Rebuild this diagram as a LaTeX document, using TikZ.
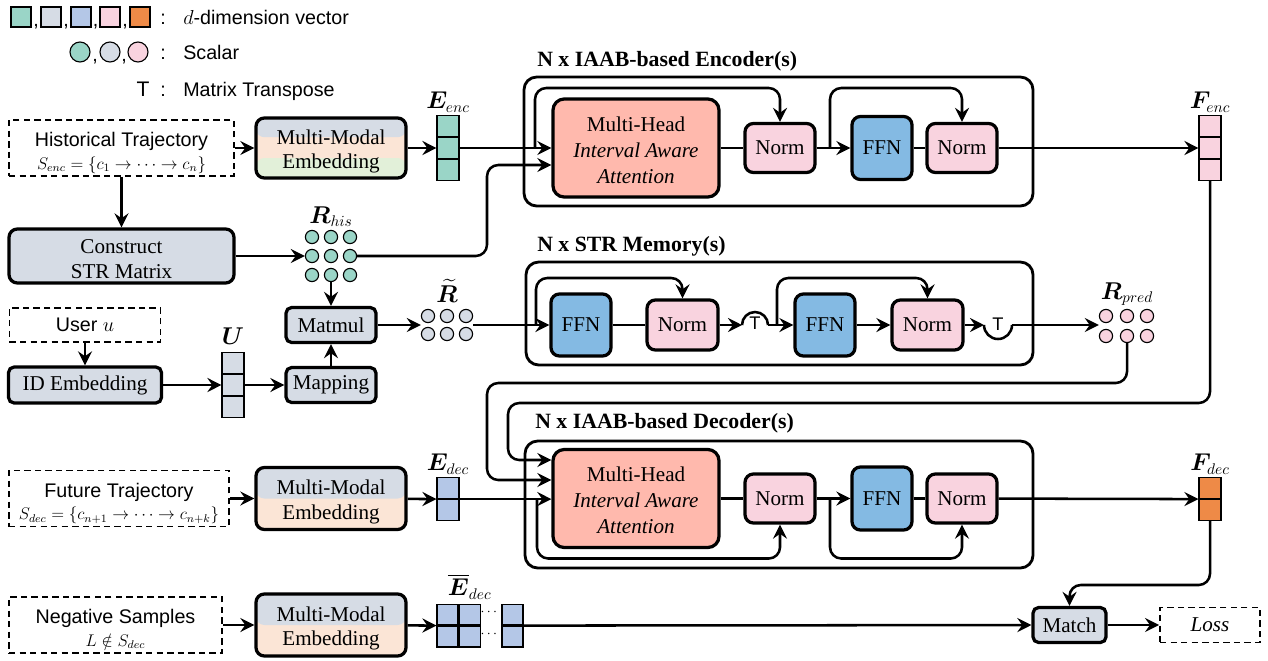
\documentclass[tikz,border=0pt]{standalone}
\usepackage[no-math]{fontspec}
\usepackage{amsmath,amssymb,bm}
\setmainfont{Liberation Serif}
\setsansfont{Liberation Sans}
\usetikzlibrary{arrows.meta,calc,positioning}
\definecolor{mhred}{HTML}{FFB9AD}
\definecolor{pnk}{HTML}{F9D3DF}
\definecolor{ffnb}{HTML}{84BAE3}
\definecolor{gry}{HTML}{D6DCE5}
\definecolor{tea}{HTML}{9AD5C7}
\definecolor{blu}{HTML}{B4C7E7}
\definecolor{org}{HTML}{EE8A47}
\definecolor{pch}{HTML}{FBE5D6}
\definecolor{grn}{HTML}{E2F0D9}
\tikzset{
    box/.style =    {rectangle,
                    rounded corners=6pt,
                    draw=black,
                    text=black,
                    line width=2.3pt,
                    align=center,
                    inner sep=0pt,
                    font=\fontsize{15}{17.5}\selectfont},
    dbox/.style =   {rectangle,
                    draw=black,
                    dash pattern=on 4.5pt off 3pt,
                    line width=1.3pt,
                    align=center,
                    inner sep=0pt,
                    font=\sffamily\fontsize{14}{16}\selectfont},
    mm/.style =     {box,
                    fill=pch,
                    minimum width=3.75cm,
                    minimum height=1.55cm},
    band2/.style =  {path picture={\fill[gry] (path picture bounding box.north west) rectangle ([yshift=-0.775cm]path picture bounding box.north east);}},
    band3/.style =  {path picture={\fill[gry] (path picture bounding box.north west) rectangle ([yshift=-0.48cm]path picture bounding box.north east);
                                   \fill[grn] (path picture bounding box.south west) rectangle ([yshift=0.5cm]path picture bounding box.south east);}},
    cell/.style =   {rectangle,
                    draw=black,
                    line width=0.8pt,
                    inner sep=0pt,
                    minimum width=0.55cm,
                    minimum height=0.52cm},
    keysq/.style =  {cell,
                    minimum width=0.5cm,
                    minimum height=0.5cm},
    scal/.style =   {circle,
                    draw=black,
                    line width=0.8pt,
                    inner sep=0pt,
                    minimum size=0.33cm},
    lbl/.style =    {font=\fontsize{16}{18}\selectfont,
                    inner sep=1pt,
                    label distance=1pt},
    head/.style =   {anchor=base west,
                    inner sep=0pt,
                    font=\bfseries\fontsize{15.5}{18}\selectfont},
    txt/.style =    {inner sep=0pt,
                    font=\sffamily\fontsize{14}{16}\selectfont},
    blk/.style =    {draw=black,
                    line width=2pt,
                    rounded corners=9pt},
    wire/.style =   {line width=1.8pt},
    >={Stealth[length=10pt,width=10pt,inset=3.5pt]},
    arr/.style =    {wire, ->},
    res/.style =    {wire, ->, rounded corners=8pt}}

\begin{document}
\begin{tikzpicture}[x=0.025cm, y=-0.025cm]
\useasboundingbox (0,0) rectangle (1268,660);

% legend
\node[keysq, fill=tea] (k1) at (21,17) {};
\node[keysq, fill=gry] (k2) at (51,17) {};
\node[keysq, fill=blu] (k3) at (81,17) {};
\node[keysq, fill=pnk] (k4) at (110,17) {};
\node[keysq, fill=org] (k5) at (140,17) {};
\node[txt, anchor=base] (c1) at (36,26) {,};
\node[txt, anchor=base] (c2) at (66,26) {,};
\node[txt, anchor=base] (c3) at (95.5,26) {,};
\node[txt, anchor=base] (c4) at (125,26) {,};
\node[txt, anchor=base] (m1) at (163,24) {:};
\node[txt, anchor=base west] (l1) at (183,24) {{\fontsize{15}{16}\selectfont$d$}-dimension vector};
\node[scal, minimum size=0.5cm, fill=tea] (o1) at (80,52) {};
\node[scal, minimum size=0.5cm, fill=gry] (o2) at (110,52) {};
\node[scal, minimum size=0.5cm, fill=pnk] (o3) at (138,52) {};
\node[txt, anchor=base] (c5) at (95,61) {,};
\node[txt, anchor=base] (c6) at (124,61) {,};
\node[txt, anchor=base] (m2) at (163,59) {:};
\node[txt, anchor=base west] (l2) at (183,59) {Scalar};
\node[txt, anchor=base, font=\sffamily\fontsize{15}{16}\selectfont] (tt) at (143,96) {T};
\node[txt, anchor=base] (m3) at (163,96) {:};
\node[txt, anchor=base west] (l3) at (183,96) {Matrix Transpose};

% blocks
\draw[blk] (524,77) rectangle (1033,206);
\draw[blk] (526,262) rectangle (1033,365);
\draw[blk] (525,441) rectangle (1033,568);
\node[head] (enct) at (537,66) {N x IAAB-based Encoder(s)};
\node[head] (strt) at (537,251) {N x STR Memory(s)};
\node[head] (dect) at (535,428) {N x IAAB-based Decoder(s)};

% inputs
\node[dbox, minimum width=5.625cm, minimum height=1.4cm] (hist) at (121.5,148) {\rule{0pt}{17pt}Historical Trajectory\\{\fontsize{12}{14}\selectfont$S_{enc}=\{c_1\rightarrow\cdots\rightarrow c_n\}$}};
\node[mm, band3, minimum height=1.5cm] (mm1) at (331,148) {\rule{0pt}{15.5pt}Multi-Modal\\Embedding};
\node[cell, fill=tea] (ee2) at (448,148) {};
\node[cell, fill=tea, above=0pt of ee2, label={[lbl]above:$\bm{E}_{enc}$}] (ee1) {};
\node[cell, fill=tea, below=0pt of ee2] (ee3) {};

\node[box, fill=gry, minimum width=5.625cm, minimum height=1.35cm] (cons) at (121.5,256) {\rule{0pt}{14.5pt}Construct\\STR Matrix};
\node[scal, fill=tea] (h11) at (312,237) {};
\node[scal, fill=tea, label={[lbl]above:$\bm{R}_{his}$}] (h12) at (331,237) {};
\node[scal, fill=tea] (h13) at (350,237) {};
\node[scal, fill=tea] (h21) at (312,256) {};
\node[scal, fill=tea] (h22) at (331,256) {};
\node[scal, fill=tea] (h23) at (350,256) {};
\node[scal, fill=tea] (h31) at (312,275) {};
\node[scal, fill=tea] (h32) at (331,275) {};
\node[scal, fill=tea] (h33) at (350,275) {};

\node[box, fill=gry, minimum width=2.25cm, minimum height=0.875cm, rounded corners=4pt] (matmul) at (331,325) {Matmul};
\node[box, fill=gry, minimum width=2.25cm, minimum height=0.875cm, rounded corners=4pt] (mapping) at (331,385) {Mapping};
\node[scal, fill=gry] (t11) at (428,316) {};
\node[scal, fill=gry, label={[lbl, label distance=3pt]above:$\widetilde{\bm{R}}$}] (t12) at (447,316) {};
\node[scal, fill=gry] (t13) at (466,316) {};
\node[scal, fill=gry] (t21) at (428,334) {};
\node[scal, fill=gry] (t22) at (447,334) {};
\node[scal, fill=gry] (t23) at (466,334) {};

\node[dbox, minimum width=3.775cm, minimum height=0.85cm] (user) at (85,325) {User $u$};
\node[box, fill=gry, minimum width=3.825cm, minimum height=0.9cm, rounded corners=4pt] (idemb) at (85,385) {ID Embedding};
\node[cell, fill=gry] (u2) at (233,385) {};
\node[cell, fill=gry, above=0pt of u2, label={[lbl, label distance=4pt]above:$\bm{U}$}] (u1) {};
\node[cell, fill=gry, below=0pt of u2] (u3) {};

\node[dbox, minimum width=5.5cm, minimum height=1.4cm] (fut) at (119,498.5) {\rule{0pt}{17pt}Future Trajectory\\{\fontsize{12}{14}\selectfont$S_{dec}=\{c_{n+1}\rightarrow\cdots\rightarrow c_{n+k}\}$}};
\node[mm, band2] (mm2) at (331,498.5) {\rule{0pt}{15.5pt}Multi-Modal\\Embedding};
\node[cell, fill=blu, label={[lbl]above:$\bm{E}_{dec}$}] (ed1) at (448,488.1) {};
\node[cell, fill=blu, below=0pt of ed1] (ed2) {};

\node[dbox, minimum width=5.325cm, minimum height=1.4cm] (neg) at (115.5,625) {\rule{0pt}{16pt}Negative Samples\\{\fontsize{12}{14}\selectfont$L\notin S_{dec}$}};
\node[mm, band2] (mm3) at (331,625) {\rule{0pt}{15.5pt}Multi-Modal\\Embedding};
\node[cell, fill=blu, minimum width=0.525cm] (eb11) at (447.5,614.6) {};
\node[cell, fill=blu, minimum width=0.525cm, right=0pt of eb11, label={[lbl, label distance=2pt]above:$\overline{\bm{E}}_{dec}$}] (eb12) {};
\node[cell, fill=blu, minimum width=0.525cm, below=0pt of eb11] (eb21) {};
\node[cell, fill=blu, minimum width=0.525cm, below=0pt of eb12] (eb22) {};
\node[cell, fill=blu, minimum width=0.525cm] (eb13) at (512.5,614.6) {};
\node[cell, fill=blu, minimum width=0.525cm, below=0pt of eb13] (eb23) {};
\node[inner sep=0pt, font=\fontsize{10}{10}\selectfont] (dt1) at (490,612) {$\cdots$};
\node[inner sep=0pt, font=\fontsize{10}{10}\selectfont] (dt2) at (490,634) {$\cdots$};

% encoder
\node[box, fill=mhred, minimum width=4.15cm, minimum height=2.45cm, rounded corners=8pt, font=\fontsize{15}{18.5}\selectfont] (emh) at (636,148) {\rule{0pt}{13pt}Multi-Head\\\textit{Interval Aware}\\\textit{Attention}};
\node[box, fill=pnk, minimum width=1.75cm, minimum height=1.225cm] (en1) at (780,148) {Norm};
\node[box, fill=ffnb, minimum width=1.5cm, minimum height=1.575cm] (ef) at (882,148) {FFN};
\node[box, fill=pnk, minimum width=1.75cm, minimum height=1.225cm] (en2) at (962,148) {Norm};
\node[cell, fill=pnk] (fe2) at (1210,148) {};
\node[cell, fill=pnk, above=0pt of fe2, label={[lbl]above:$\bm{F}_{enc}$}] (fe1) {};
\node[cell, fill=pnk, below=0pt of fe2] (fe3) {};

% STR memory
\node[box, fill=ffnb, minimum width=1.5cm, minimum height=1.55cm] (sf1) at (581,325) {FFN};
\node[box, fill=pnk, minimum width=1.775cm, minimum height=1.25cm] (sn1) at (682.5,325) {Norm};
\node[box, fill=ffnb, minimum width=1.5cm, minimum height=1.55cm] (sf2) at (825,325) {FFN};
\node[box, fill=pnk, minimum width=1.775cm, minimum height=1.25cm] (sn2) at (927.5,325) {Norm};
\coordinate (b1a) at (742,325);
\coordinate (b1b) at (768,325);
\coordinate (b2a) at (984,325);
\coordinate (b2b) at (1012,325);
\node[txt, font=\sffamily\fontsize{13}{13}\selectfont] (tp1) at (755,323) {T};
\node[txt, font=\sffamily\fontsize{13}{13}\selectfont] (tp2) at (998,324) {T};
\node[scal, fill=pnk] (q11) at (1106,316) {};
\node[scal, fill=pnk, label={[lbl]above:$\bm{R}_{pred}$}] (q12) at (1127,316) {};
\node[scal, fill=pnk] (q13) at (1147,316) {};
\node[scal, fill=pnk] (q21) at (1106,336) {};
\node[scal, fill=pnk] (q22) at (1127,336) {};
\node[scal, fill=pnk] (q23) at (1147,336) {};

% decoder
\node[box, fill=mhred, minimum width=4.15cm, minimum height=2.45cm, rounded corners=8pt, font=\fontsize{15}{18.5}\selectfont] (dmh) at (636,498.5) {\rule{0pt}{13pt}Multi-Head\\\textit{Interval Aware}\\\textit{Attention}};
\node[box, fill=pnk, minimum width=1.75cm, minimum height=1.225cm] (dn1) at (780,498.5) {Norm};
\node[box, fill=ffnb, minimum width=1.5cm, minimum height=1.575cm] (df) at (882,498.5) {FFN};
\node[box, fill=pnk, minimum width=1.75cm, minimum height=1.225cm] (dn2) at (962,498.5) {Norm};
\node[cell, fill=org, label={[lbl]above:$\bm{F}_{dec}$}] (fd1) at (1210,488.1) {};
\node[cell, fill=org, below=0pt of fd1] (fd2) {};

\node[box, fill=gry, minimum width=1.825cm, minimum height=0.875cm, rounded corners=4pt] (match) at (1069.5,625) {Match};
\node[dbox, font=\fontsize{15}{17}\selectfont, minimum width=2.5cm, minimum height=0.875cm] (loss) at (1210,625) {\textit{Loss}};

% connections
\path[arr] (hist) edge (mm1)
           (mm1) edge (ee2)
           (ee2) edge (emh)
           (hist) edge (cons)
           (cons) edge (h21)
           (h32) edge (matmul)
           (mapping) edge (matmul)
           (matmul) edge (matmul -| t21.west)
           (user) edge (idemb)
           (idemb) edge (u2)
           (u2) edge (mapping)
           (t13.east |- sf1) edge (sf1)
           (en1) edge (ef)
           (en2) edge (fe2)
           (sn1) edge (b1a)
           (b1b) edge (sf2)
           (sf2) edge (sn2)
           (sn2) edge (b2a)
           (b2b) edge (q11.west |- b2b)
           (fut) edge (mm2)
           (mm2) edge (ed1.south west)
           (ed1.south east) edge (dmh.west |- ed1.south east)
           (dn1) edge (df)
           (dn2) edge (fd1.south west)
           (neg) edge (mm3)
           (mm3) edge (eb11.south west)
           (eb13.south east) edge (match)
           (match) edge (loss);
\path[wire] (emh) edge (en1)
            (ef) edge (en2)
            (sf1) edge (sn1)
            (dmh) edge (dn1)
            (df) edge (dn2);
\draw[wire] (b1a) arc[start angle=180, end angle=0, radius=0.325cm];
\draw[wire] (b2a) arc[start angle=180, end angle=360, radius=0.35cm];

% residual paths
\coordinate (er1) at (535,148);
\coordinate (er2) at (830,148);
\coordinate (sr1) at (536,325);
\coordinate (sr2) at (777,325);
\coordinate (dr1) at (537,498.5);
\coordinate (dr2) at (830,498.5);
\draw[res] (er1) -- ++(0,-60) -| (en1.north);
\draw[res] (er2) -- ++(0,-60) -| (en2.north);
\draw[res] (sr1) -- ++(0,-47) -| (sn1.north);
\draw[res] (sr2) -- ++(0,-47) -| (sn2.north);
\draw[res] (dr1) -- ++(0,60) -| (dn1.south);
\draw[res] (dr2) -- ++(0,60) -| (dn2.south);

% long routes
\draw[res] (h23.east) -- (487,256) |- (emh.west |- 0,165);
\draw[res] (fe3.south) |- (508,403) |- (dmh.west |- 0,460);
\draw[res] (q22.south) |- (487,383) |- (dmh.west |- 0,480);
\draw[res] (fd2.south) -- ++(0,64) -| (match.north);
\end{tikzpicture}
\end{document}
